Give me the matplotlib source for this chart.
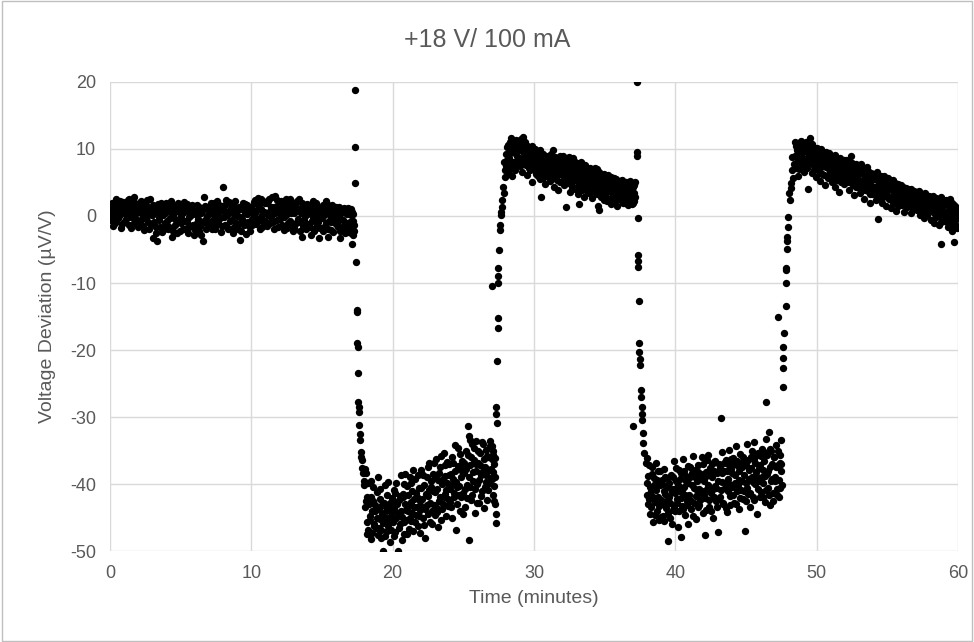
import numpy as np
import matplotlib
matplotlib.use('Agg')
from matplotlib import pyplot as plt
from matplotlib.patches import Rectangle

# %% Data (time in minutes, deviation in uV/V).
# Each plateau is stored as two interleaved read-outs (a, b).
baseline_a = [
    (0.00, 0.8), (0.08, -0.6), (0.17, 1.9), (0.25, 0.2), (0.33, -1.1), (0.42, 2.6), (0.50, 0.9), (0.58, -0.3), (0.67, 1.5), (0.75, -1.8), (0.83, 0.4), (0.92, 2.1),
    (1.00, -0.9), (1.08, 1.2), (1.17, 0.1), (1.25, 2.4), (1.33, -1.4), (1.42, 0.7), (1.50, -0.2), (1.58, 1.8), (1.67, 2.9), (1.75, -0.7), (1.83, 0.5), (1.92, 1.4),
    (2.00, -1.6), (2.08, 0.9), (2.17, 2.2), (2.25, -0.4), (2.33, 1.1), (2.42, -2.1), (2.50, 0.3), (2.58, 1.7), (2.67, -0.9), (2.75, 0.6), (2.83, 2.5), (2.92, -1.2),
    (3.00, 0.2), (3.07, -3.3), (3.17, 1.3), (3.25, -1.7), (3.30, -3.8), (3.42, 0.8), (3.50, -0.6), (3.58, 1.9), (3.67, -2.4), (3.75, 0.1), (3.83, 1.5), (3.92, -1.0),
    (4.00, 0.7), (4.08, -2.0), (4.17, 1.6), (4.25, -0.3), (4.33, 2.2), (4.40, -3.1), (4.50, 0.4), (4.58, -1.4), (4.67, 1.0), (4.75, -0.8), (4.83, 2.0), (4.92, -2.2),
    (5.00, 0.0), (5.08, 1.3), (5.17, -1.9), (5.25, 0.6), (5.33, -0.7), (5.42, 1.8), (5.50, -2.6), (5.58, -0.1), (5.67, 1.1), (5.75, -1.5), (5.83, 0.3), (5.92, -2.8),
    (6.00, 0.9), (6.08, -1.2), (6.17, 1.6), (6.25, -0.4), (6.33, -2.3), (6.42, 0.5), (6.50, -1.0), (6.60, -3.8), (6.67, 2.8), (6.75, -0.6), (6.83, 1.2), (6.92, -1.7),
    (7.00, 0.4), (7.08, -0.9), (7.17, 1.9), (7.25, -2.0), (7.33, 0.2), (7.42, 1.0), (7.50, -1.3), (7.58, 2.3), (7.67, -0.5), (7.75, 0.8), (7.83, -2.4), (7.92, 1.5),
    (8.00, 4.4), (8.08, -0.2), (8.17, 1.7), (8.25, -1.6), (8.33, 0.6), (8.42, 2.1), (8.50, -0.8), (8.58, 1.1), (8.67, -2.5), (8.75, 0.3), (8.83, 1.4), (8.92, -1.1),
    (9.00, 0.7), (9.08, -1.9), (9.17, -3.6), (9.25, 1.2), (9.33, -0.4), (9.42, 2.0), (9.50, -1.4), (9.58, 0.5), (9.67, 1.6), (9.75, -0.9), (9.83, 0.9), (9.92, -2.2),
    (10.00, 1.3), (10.08, -0.5), (10.17, 2.1), (10.25, 0.4), (10.33, -1.2), (10.42, 1.8), (10.50, 2.7), (10.58, -0.3), (10.67, 1.0), (10.75, -1.6), (10.83, 2.3), (10.92, 0.6),
    (11.00, -0.8), (11.08, 1.9), (11.17, 0.2), (11.25, 2.6), (11.33, -1.1), (11.42, 1.4), (11.50, 0.7), (11.58, -2.0), (11.67, 3.0), (11.75, 0.9), (11.83, -0.6), (11.92, 1.7),
    (12.00, 0.3), (12.08, 2.2), (12.17, -1.3), (12.25, 1.1), (12.33, -0.2), (12.42, 2.5), (12.50, -1.8), (12.58, 0.8), (12.67, 1.6), (12.75, -0.7), (12.83, 2.0), (12.92, -2.3),
    (13.00, 0.5), (13.08, 1.4), (13.17, -1.0), (13.25, 2.1), (13.33, -0.4), (13.40, 2.6), (13.50, 0.9), (13.60, -3.1), (13.67, -1.5), (13.75, 1.2), (13.83, 0.0), (13.92, 1.8),
    (14.00, -1.2), (14.08, 0.6), (14.20, -2.9), (14.25, 1.5), (14.33, -0.5), (14.42, 0.8), (14.50, -1.9), (14.58, 1.9), (14.67, 0.1), (14.75, -0.9), (14.80, -3.3), (14.92, 1.1),
    (15.00, -0.3), (15.08, 1.6), (15.17, -1.7), (15.30, 2.3), (15.33, 0.4), (15.40, -3.1), (15.50, -0.8), (15.58, 1.3), (15.67, -2.1), (15.75, 0.7), (15.83, -0.4), (15.92, 1.0),
    (16.00, 1.4), (16.08, -1.1), (16.17, 0.5), (16.25, -2.2), (16.30, -3.3), (16.42, 0.9), (16.50, -0.6), (16.58, 1.2), (16.67, -1.6), (16.75, 0.3), (16.83, -2.4), (16.92, 0.8),
    (17.00, -0.9), (17.05, 1.1), (17.10, -1.8), (17.15, -4.2), (17.20, 0.3), (17.25, -1.4), (17.30, -2.2),
]
baseline_b = [
    (0.04, -0.2), (0.12, 1.4), (0.21, -1.5), (0.29, 2.0), (0.37, 0.5), (0.46, -0.8), (0.54, 1.7), (0.62, 0.0), (0.71, 2.3), (0.79, 0.9), (0.87, -1.2), (0.96, 1.1),
    (1.04, 2.0), (1.12, -0.5), (1.21, 1.6), (1.29, 0.3), (1.37, 2.6), (1.46, -1.8), (1.54, 1.0), (1.62, 0.2), (1.71, -1.0), (1.79, 1.9), (1.87, -0.4), (1.96, 0.8),
    (2.04, 1.7), (2.12, -0.8), (2.21, 0.4), (2.29, 1.9), (2.37, -1.5), (2.46, 0.9), (2.54, -0.3), (2.62, 2.4), (2.71, 0.5), (2.79, -1.9), (2.87, 1.0), (2.96, 0.1),
    (3.04, 1.6), (3.12, -0.9), (3.21, 0.6), (3.29, -2.6), (3.37, 1.8), (3.46, -0.2), (3.54, -1.6), (3.62, 0.7), (3.71, 1.3), (3.79, -2.0), (3.87, 0.4), (3.96, 1.9),
    (4.04, -0.7), (4.12, 0.9), (4.21, -1.6), (4.29, 1.2), (4.37, 0.1), (4.46, -2.3), (4.54, 1.5), (4.62, -0.4), (4.71, -2.6), (4.79, 0.8), (4.87, -0.9), (4.96, 1.4),
    (5.04, -1.1), (5.12, 0.4), (5.21, 2.1), (5.29, -2.0), (5.37, 0.8), (5.46, -0.9), (5.54, 1.2), (5.62, -1.7), (5.71, 0.2), (5.79, 1.7), (5.87, -1.3), (5.96, 0.5),
    (6.04, -2.1), (6.12, 0.3), (6.21, -0.8), (6.29, 1.3), (6.37, -1.5), (6.46, -2.9), (6.54, 0.7), (6.62, -0.9), (6.71, 1.5), (6.79, -2.0), (6.87, 0.0), (6.96, -1.1),
    (7.04, 1.3), (7.12, -1.6), (7.21, 0.6), (7.29, -0.6), (7.37, 2.0), (7.46, -1.9), (7.54, 0.4), (7.62, -1.1), (7.71, 1.6), (7.79, -0.3), (7.87, 0.9), (7.96, -1.5),
    (8.04, 0.8), (8.12, -1.3), (8.21, 2.4), (8.29, 0.2), (8.37, -1.9), (8.46, 0.9), (8.54, 1.8), (8.62, -0.6), (8.71, 0.5), (8.79, -1.7), (8.87, 2.2), (8.96, 0.0),
    (9.04, -1.2), (9.12, 1.3), (9.21, -0.2), (9.29, -2.2), (9.37, 1.0), (9.46, -0.9), (9.54, 1.8), (9.62, -2.7), (9.71, 0.3), (9.79, 1.4), (9.87, -1.5), (9.96, 0.6),
    (10.04, -1.3), (10.12, 0.8), (10.21, -0.1), (10.29, 2.4), (10.37, 0.9), (10.46, -0.8), (10.54, 1.5), (10.62, -1.9), (10.71, 2.5), (10.79, 0.2), (10.87, -0.9), (10.96, 1.9),
    (11.04, 0.5), (11.12, -1.5), (11.21, 2.2), (11.29, 0.8), (11.37, -0.2), (11.46, 2.8), (11.54, -0.9), (11.62, 1.3), (11.71, 0.4), (11.79, 2.4), (11.87, -1.6), (11.96, 1.0),
    (12.04, -0.4), (12.12, 1.5), (12.21, 0.6), (12.29, -2.1), (12.37, 1.9), (12.46, 0.2), (12.54, 1.2), (12.62, -1.0), (12.71, 2.6), (12.79, 0.5), (12.87, -1.4), (12.96, 1.3),
    (13.04, -1.8), (13.12, 0.7), (13.21, 2.3), (13.29, -0.9), (13.37, 1.1), (13.46, -2.2), (13.54, 0.4), (13.62, 1.9), (13.71, -0.6), (13.79, 0.9), (13.87, -2.0), (13.96, 0.3),
    (14.04, 1.6), (14.12, -1.6), (14.21, 0.3), (14.29, -0.8), (14.37, 2.2), (14.46, -2.3), (14.54, 0.5), (14.62, -1.3), (14.71, 1.3), (14.79, 0.0), (14.87, -1.8), (14.96, 0.8),
    (15.04, -2.3), (15.12, 0.2), (15.21, 1.1), (15.29, -1.0), (15.37, 1.8), (15.46, -1.9), (15.54, 0.1), (15.62, -0.9), (15.71, 1.6), (15.79, -2.4), (15.87, 0.6), (15.96, -1.2),
    (16.04, 0.3), (16.12, -1.7), (16.21, 1.4), (16.29, -0.3), (16.37, -1.9), (16.46, 0.6), (16.54, -1.3), (16.62, -2.6), (16.71, 0.4), (16.79, -1.0), (16.87, 1.2), (16.96, -2.0),
    (17.02, 0.2), (17.08, -2.6), (17.12, 0.6), (17.18, -0.8), (17.22, -2.8),
]

drop_1 = [
    (17.32, 18.8), (17.33, 10.3), (17.35, 4.9), (17.40, -6.9), (17.45, -14.0), (17.47, -14.3), (17.50, -19.0), (17.52, -19.6),
    (17.55, -23.4), (17.58, -27.8), (17.60, -28.5), (17.62, -29.3), (17.65, -31.2), (17.68, -32.5), (17.70, -33.5), (17.75, -35.2),
    (17.78, -36.0), (17.82, -36.4), (17.86, -37.6), (17.90, -38.3), (17.95, -39.5),
]

low_1a = [
    (18.00, -40.2), (18.05, -43.5), (18.10, -38.4), (18.15, -45.6), (18.22, -41.9), (18.28, -46.8), (18.33, -43.0), (18.40, -44.7), (18.47, -39.6), (18.53, -47.3), (18.60, -42.5), (18.67, -45.9), (18.73, -44.1), (18.80, -46.5), (18.87, -41.2), (18.93, -47.6),
    (19.00, -43.8), (19.07, -45.2), (19.13, -40.7), (19.20, -46.9), (19.27, -44.4), (19.30, -50.0), (19.40, -42.8), (19.47, -47.8), (19.53, -45.0), (19.60, -41.6), (19.67, -46.2), (19.73, -43.3), (19.80, -48.6), (19.87, -44.8), (19.93, -42.1),
    (20.00, -45.7), (20.07, -40.9), (20.13, -43.6), (20.20, -47.1), (20.27, -39.8), (20.35, -44.3), (20.40, -50.0), (20.47, -42.4), (20.53, -46.0), (20.60, -38.7), (20.67, -44.9), (20.73, -41.5), (20.80, -47.4), (20.87, -43.0), (20.93, -45.3),
    (21.00, -40.3), (21.07, -44.0), (21.13, -46.7), (21.20, -38.9), (21.27, -42.7), (21.33, -45.5), (21.40, -41.0), (21.47, -47.0), (21.53, -43.4), (21.60, -39.2), (21.67, -44.6), (21.73, -42.0), (21.80, -46.3), (21.87, -40.6), (21.93, -43.9),
    (22.00, -37.9), (22.07, -42.3), (22.13, -45.0), (22.20, -40.1), (22.27, -43.7), (22.30, -48.1), (22.40, -39.0), (22.47, -41.8), (22.53, -44.5), (22.60, -36.8), (22.67, -42.9), (22.73, -40.4), (22.80, -46.0), (22.87, -38.5), (22.93, -43.1),
    (23.00, -41.2), (23.07, -36.2), (23.13, -44.2), (23.20, -39.4), (23.27, -42.6), (23.33, -37.5), (23.40, -45.4), (23.47, -40.0), (23.53, -43.0), (23.60, -35.4), (23.67, -41.5), (23.73, -38.8), (23.80, -44.7), (23.87, -39.9), (23.93, -42.2),
    (24.00, -37.0), (24.07, -40.8), (24.13, -43.5), (24.20, -35.9), (24.27, -39.3), (24.33, -42.0), (24.40, -38.1), (24.47, -46.8), (24.53, -40.5), (24.60, -34.6), (24.67, -41.7), (24.73, -37.6), (24.80, -44.0), (24.87, -39.0), (24.93, -36.5),
    (25.00, -41.3), (25.07, -38.3), (25.13, -43.4), (25.20, -35.0), (25.27, -40.2), (25.33, -31.4), (25.40, -32.8), (25.40, -48.4), (25.47, -37.2), (25.53, -42.4), (25.60, -34.1), (25.67, -39.6), (25.73, -36.4), (25.80, -44.3), (25.87, -38.0), (25.93, -33.6),
    (26.00, -40.0), (26.07, -36.9), (26.13, -42.8), (26.20, -35.3), (26.27, -38.6), (26.33, -41.1), (26.40, -34.0), (26.47, -43.6), (26.53, -37.4), (26.60, -39.7), (26.67, -35.8), (26.73, -40.9), (26.80, -37.9), (26.87, -34.4), (26.93, -39.1),
    (27.00, -36.3), (27.03, -34.4), (27.07, -41.6), (27.10, -38.2), (27.13, -35.6), (27.17, -40.3), (27.20, -37.0), (27.25, -43.0), (27.30, -44.4), (27.32, -45.8),
]
low_1b = [
    (18.03, -37.8), (18.12, -42.6), (18.19, -47.4), (18.25, -39.9), (18.37, -45.3), (18.44, -42.0), (18.50, -48.2), (18.57, -44.0), (18.63, -40.5), (18.70, -46.3), (18.77, -43.2), (18.90, -45.0), (18.97, -39.0),
    (19.03, -46.5), (19.10, -42.3), (19.17, -48.0), (19.23, -43.1), (19.35, -45.8), (19.43, -40.2), (19.50, -44.1), (19.57, -47.0), (19.63, -43.6), (19.70, -39.7), (19.77, -45.5), (19.83, -42.9), (19.90, -46.8), (19.97, -44.2),
    (20.03, -42.5), (20.10, -47.7), (20.17, -41.4), (20.23, -45.0), (20.30, -43.0), (20.43, -46.6), (20.50, -41.8), (20.57, -44.0), (20.63, -48.4), (20.70, -42.0), (20.77, -40.0), (20.83, -45.6), (20.90, -38.5), (20.97, -43.9),
    (21.03, -47.5), (21.10, -41.6), (21.17, -43.2), (21.23, -45.0), (21.30, -39.8), (21.37, -44.3), (21.43, -37.9), (21.50, -42.2), (21.57, -45.7), (21.63, -41.3), (21.70, -43.5), (21.77, -38.6), (21.83, -44.8), (21.90, -42.5), (21.97, -47.3),
    (22.03, -40.6), (22.10, -43.4), (22.17, -38.6), (22.23, -46.1), (22.35, -41.5), (22.43, -43.2), (22.50, -37.5), (22.57, -40.9), (22.63, -45.6), (22.70, -39.6), (22.77, -44.0), (22.83, -41.0), (22.90, -36.9), (22.97, -44.6),
    (23.03, -39.0), (23.10, -43.5), (23.17, -40.7), (23.23, -46.4), (23.30, -38.3), (23.37, -41.9), (23.43, -35.8), (23.50, -43.8), (23.57, -39.2), (23.63, -42.0), (23.70, -37.2), (23.77, -40.9), (23.83, -36.7), (23.90, -43.3), (23.97, -38.6),
    (24.03, -42.7), (24.10, -38.5), (24.17, -40.0), (24.23, -45.1), (24.30, -36.8), (24.37, -41.4), (24.43, -34.2), (24.50, -39.7), (24.57, -43.0), (24.63, -37.3), (24.70, -40.3), (24.77, -35.5), (24.83, -42.0), (24.90, -38.0), (24.97, -44.5),
    (25.03, -36.8), (25.10, -40.7), (25.17, -37.7), (25.23, -42.1), (25.30, -35.7), (25.37, -39.0), (25.45, -33.5), (25.50, -40.4), (25.57, -36.0), (25.63, -41.6), (25.70, -38.2), (25.77, -34.6), (25.83, -40.8), (25.90, -37.0), (25.97, -42.9),
    (26.03, -35.1), (26.10, -39.4), (26.17, -37.2), (26.23, -41.8), (26.30, -33.8), (26.37, -38.0), (26.43, -36.2), (26.50, -40.5), (26.57, -34.9), (26.63, -38.7), (26.70, -42.4), (26.77, -36.0), (26.83, -39.9), (26.90, -33.6), (26.97, -37.8),
    (27.05, -39.3), (27.12, -35.0), (27.18, -42.5), (27.22, -36.1), (27.27, -38.9),
]

rise_1 = [
    (27.06, -10.4), (27.33, -28.5), (27.34, -29.6), (27.35, -30.9), (27.38, -21.6), (27.42, -15.2), (27.43, -16.7), (27.45, -7.8),
    (27.46, -9.0), (27.47, -10.0), (27.52, -5.1), (27.56, -1.3), (27.58, -2.1), (27.65, 0.6), (27.68, 0.1), (27.72, 2.4),
    (27.75, 1.4), (27.82, 4.3), (27.85, 3.4), (27.90, 8.0), (27.93, 5.8), (27.96, 6.9), (28.00, 9.2), (28.04, 7.4),
]

high_1a = [
    (28.08, 10.3), (28.13, 6.2), (28.20, 8.7), (28.27, 11.0), (28.33, 7.3), (28.40, 9.6), (28.47, 5.9), (28.53, 10.8), (28.60, 8.1), (28.67, 6.8), (28.73, 11.3), (28.80, 9.0), (28.87, 7.6), (28.93, 10.1),
    (29.00, 8.4), (29.07, 11.5), (29.13, 6.5), (29.20, 9.8), (29.25, 11.8), (29.33, 7.9), (29.40, 10.6), (29.47, 8.8), (29.53, 6.1), (29.60, 9.3), (29.67, 7.2), (29.73, 10.2), (29.80, 8.0), (29.87, 5.0), (29.93, 9.1),
    (30.00, 7.6), (30.07, 10.0), (30.13, 6.3), (30.20, 8.9), (30.27, 7.0), (30.33, 9.5), (30.40, 5.5), (30.47, 2.9), (30.53, 8.2), (30.60, 6.6), (30.67, 9.3), (30.73, 7.4), (30.80, 4.8), (30.87, 8.6), (30.93, 6.0),
    (31.00, 9.0), (31.07, 7.1), (31.13, 5.2), (31.20, 8.3), (31.27, 6.4), (31.33, 9.8), (31.40, 4.3), (31.47, 7.7), (31.53, 5.8), (31.60, 8.5), (31.67, 3.9), (31.73, 6.9), (31.80, 8.0), (31.87, 5.1), (31.93, 7.3),
    (32.00, 6.2), (32.07, 8.9), (32.13, 4.6), (32.20, 7.5), (32.27, 1.4), (32.33, 5.7), (32.40, 8.2), (32.47, 6.5), (32.53, 3.6), (32.60, 7.1), (32.67, 5.0), (32.73, 8.6), (32.80, 6.0), (32.87, 4.1), (32.93, 7.0),
    (33.00, 5.4), (33.07, 7.9), (33.13, 3.3), (33.20, 1.8), (33.27, 6.3), (33.33, 4.7), (33.40, 7.4), (33.47, 5.6), (33.53, 2.9), (33.60, 6.7), (33.67, 4.4), (33.73, 7.1), (33.80, 5.1), (33.87, 3.5), (33.93, 6.0),
    (34.00, 4.9), (34.07, 6.8), (34.13, 2.7), (34.20, 5.5), (34.27, 3.8), (34.33, 6.4), (34.40, 4.2), (34.47, 7.0), (34.53, 1.5), (34.60, 0.9), (34.67, 5.3), (34.73, 3.2), (34.80, 6.0), (34.87, 4.5), (34.93, 2.4),
    (35.00, 5.7), (35.07, 3.6), (35.13, 4.9), (35.20, 2.2), (35.27, 6.1), (35.33, 3.9), (35.40, 5.0), (35.47, 1.8), (35.53, 4.4), (35.60, 2.9), (35.67, 5.6), (35.73, 3.3), (35.80, 4.7), (35.87, 1.5), (35.93, 3.0),
    (36.00, 4.8), (36.07, 2.5), (36.13, 3.8), (36.20, 5.3), (36.27, 1.9), (36.33, 3.4), (36.40, 4.6), (36.47, 2.2), (36.53, 5.0), (36.60, 3.1), (36.67, 1.6), (36.73, 4.1), (36.80, 2.6), (36.87, 3.7), (36.93, 1.8),
    (37.00, 4.4), (37.05, 2.3), (37.10, 3.5), (37.15, 5.1),
]
high_1b = [
    (28.10, 8.3), (28.17, 10.6), (28.23, 6.9), (28.30, 9.4), (28.37, 11.6), (28.43, 8.0), (28.50, 10.0), (28.57, 7.0), (28.63, 11.0), (28.70, 9.3), (28.77, 7.9), (28.83, 10.7), (28.90, 8.6), (28.97, 11.2),
    (29.03, 7.4), (29.10, 9.9), (29.17, 8.5), (29.23, 10.9), (29.30, 9.2), (29.37, 11.1), (29.43, 7.6), (29.50, 10.4), (29.57, 8.4), (29.63, 9.8), (29.70, 6.9), (29.77, 8.9), (29.83, 10.5), (29.90, 7.3), (29.97, 9.4),
    (30.03, 8.4), (30.10, 6.8), (30.17, 9.6), (30.23, 7.7), (30.30, 5.9), (30.37, 8.5), (30.43, 9.9), (30.50, 7.1), (30.57, 8.8), (30.63, 5.6), (30.70, 7.9), (30.77, 9.0), (30.83, 6.5), (30.90, 8.1), (30.97, 7.0),
    (31.03, 6.0), (31.10, 8.7), (31.17, 7.2), (31.23, 9.3), (31.30, 5.6), (31.37, 7.9), (31.43, 6.6), (31.50, 8.8), (31.57, 7.0), (31.63, 5.3), (31.70, 8.2), (31.77, 6.2), (31.83, 9.0), (31.90, 6.7), (31.97, 8.0),
    (32.03, 7.4), (32.10, 5.5), (32.17, 8.0), (32.23, 6.4), (32.30, 7.8), (32.37, 4.9), (32.43, 7.0), (32.50, 8.8), (32.57, 5.9), (32.63, 6.9), (32.70, 4.4), (32.77, 7.6), (32.83, 5.3), (32.90, 8.1), (32.97, 6.1),
    (33.03, 6.6), (33.10, 4.5), (33.17, 7.0), (33.23, 5.2), (33.30, 8.1), (33.37, 6.0), (33.43, 3.9), (33.50, 6.8), (33.57, 5.0), (33.63, 7.6), (33.70, 5.7), (33.77, 3.8), (33.83, 6.4), (33.90, 4.8), (33.97, 7.2),
    (34.03, 5.8), (34.10, 3.9), (34.17, 6.1), (34.23, 4.6), (34.30, 7.2), (34.37, 5.1), (34.43, 3.3), (34.50, 5.9), (34.57, 4.0), (34.63, 6.5), (34.70, 4.8), (34.77, 2.9), (34.83, 5.4), (34.90, 3.7), (34.97, 6.2),
    (35.03, 4.5), (35.10, 2.8), (35.17, 5.3), (35.23, 3.9), (35.30, 4.7), (35.37, 2.5), (35.43, 5.8), (35.50, 3.4), (35.57, 4.9), (35.63, 2.3), (35.70, 4.3), (35.77, 5.5), (35.83, 3.0), (35.90, 4.4), (35.97, 2.6),
    (36.03, 3.6), (36.10, 5.2), (36.17, 2.4), (36.23, 4.3), (36.30, 3.0), (36.37, 5.0), (36.43, 2.0), (36.50, 3.9), (36.57, 4.5), (36.63, 2.7), (36.70, 3.5), (36.77, 5.2), (36.83, 2.0), (36.90, 4.2), (36.97, 3.1),
    (37.03, 1.9), (37.08, 4.6), (37.12, 2.8),
]

drop_2 = [
    (37.03, -31.3), (37.27, 20.0), (37.28, 9.6), (37.29, 8.9), (37.33, -0.3), (37.34, -5.8), (37.35, -6.7), (37.36, -7.6),
    (37.40, -12.7), (37.45, -18.9), (37.46, -20.3), (37.47, -21.4), (37.48, -22.2), (37.56, -26.0), (37.57, -27.0), (37.62, -28.5),
    (37.63, -29.6), (37.65, -30.4), (37.68, -32.4), (37.70, -33.9), (37.80, -35.4), (37.90, -36.8), (37.98, -36.1),
]

low_2a = [
    (38.00, -39.8), (38.07, -43.0), (38.13, -37.2), (38.20, -44.4), (38.27, -41.1), (38.33, -38.5), (38.40, -45.6), (38.47, -40.2), (38.53, -42.7), (38.60, -36.9), (38.67, -44.0), (38.73, -39.4), (38.80, -41.9), (38.87, -45.3), (38.93, -38.1),
    (39.00, -42.4), (39.07, -40.0), (39.13, -44.8), (39.20, -37.7), (39.27, -41.5), (39.33, -43.6), (39.40, -39.1), (39.50, -48.5), (39.53, -42.0), (39.60, -45.0), (39.67, -38.6), (39.73, -41.2), (39.80, -43.9), (39.87, -36.6), (39.93, -40.7),
    (40.00, -44.1), (40.07, -39.5), (40.13, -42.2), (40.20, -46.4), (40.27, -37.9), (40.33, -41.0), (40.40, -47.9), (40.47, -43.3), (40.53, -36.3), (40.60, -40.4), (40.67, -44.6), (40.73, -38.8), (40.80, -42.5), (40.87, -45.9), (40.93, -39.9),
    (41.00, -41.7), (41.07, -37.4), (41.13, -43.8), (41.20, -40.1), (41.27, -35.8), (41.33, -42.9), (41.40, -38.9), (41.47, -45.2), (41.53, -40.9), (41.60, -37.1), (41.67, -43.1), (41.73, -39.3), (41.80, -41.4), (41.87, -36.0), (41.93, -44.3),
    (42.00, -39.6), (42.07, -42.1), (42.10, -47.6), (42.20, -38.2), (42.27, -40.8), (42.33, -35.6), (42.40, -43.5), (42.47, -37.6), (42.53, -41.3), (42.60, -39.0), (42.67, -45.1), (42.73, -36.7), (42.80, -40.3), (42.87, -42.6), (42.93, -38.4),
    (43.00, -47.2), (43.07, -37.0), (43.13, -41.9), (43.20, -30.2), (43.27, -39.7), (43.33, -35.2), (43.40, -43.0), (43.47, -38.0), (43.53, -40.6), (43.60, -36.4), (43.67, -44.2), (43.73, -39.2), (43.80, -34.9), (43.87, -41.8), (43.93, -37.8),
    (44.00, -40.4), (44.07, -36.1), (44.13, -42.8), (44.20, -38.6), (44.27, -34.4), (44.33, -41.0), (44.40, -37.3), (44.47, -43.7), (44.53, -39.4), (44.60, -35.5), (44.67, -40.9), (44.73, -37.5), (44.80, -42.3), (44.90, -47.0), (44.93, -36.8),
    (45.00, -39.8), (45.07, -34.0), (45.13, -41.5), (45.20, -37.9), (45.27, -43.4), (45.33, -35.9), (45.40, -39.0), (45.47, -41.9), (45.53, -36.2), (45.60, -33.8), (45.67, -40.0), (45.73, -38.2), (45.80, -44.5), (45.87, -35.4), (45.93, -39.6),
    (46.00, -37.1), (46.07, -41.2), (46.13, -34.7), (46.20, -39.9), (46.27, -36.6), (46.33, -42.7), (46.40, -33.3), (46.47, -38.5), (46.53, -40.6), (46.60, -32.3), (46.67, -37.4), (46.73, -43.2), (46.80, -35.1), (46.87, -39.3), (46.93, -41.4),
    (47.00, -36.0), (47.07, -38.9), (47.13, -34.2), (47.20, -40.8), (47.27, -37.2), (47.33, -42.0), (47.40, -35.6), (47.45, -38.0), (47.50, -33.4), (47.53, -40.2),
]
low_2b = [
    (38.03, -41.6), (38.10, -38.8), (38.17, -42.3), (38.23, -40.4), (38.30, -43.5), (38.37, -37.5), (38.43, -41.9), (38.50, -39.1), (38.57, -44.6), (38.63, -40.9), (38.70, -42.7), (38.77, -38.0), (38.83, -43.3), (38.90, -40.1), (38.97, -44.9),
    (39.03, -39.4), (39.10, -43.0), (39.17, -41.0), (39.23, -45.5), (39.30, -38.9), (39.37, -42.6), (39.43, -40.3), (39.47, -44.3), (39.57, -39.8), (39.63, -42.9), (39.70, -40.8), (39.77, -46.0), (39.83, -39.0), (39.90, -43.4), (39.97, -41.4),
    (40.03, -37.6), (40.10, -42.9), (40.17, -40.2), (40.23, -44.0), (40.30, -39.2), (40.37, -42.1), (40.43, -38.4), (40.50, -40.9), (40.57, -43.8), (40.63, -38.0), (40.70, -41.7), (40.77, -39.6), (40.83, -43.2), (40.90, -37.3), (40.97, -42.2),
    (41.03, -39.0), (41.10, -42.5), (41.17, -38.3), (41.23, -44.7), (41.30, -40.6), (41.37, -37.9), (41.43, -41.8), (41.50, -39.6), (41.57, -43.5), (41.63, -38.2), (41.70, -40.7), (41.77, -42.4), (41.83, -38.5), (41.90, -41.0), (41.97, -37.0),
    (42.03, -41.5), (42.13, -38.9), (42.17, -43.9), (42.23, -36.4), (42.30, -40.1), (42.37, -42.4), (42.43, -38.7), (42.50, -44.1), (42.57, -37.0), (42.63, -40.8), (42.70, -38.1), (42.77, -42.0), (42.83, -36.5), (42.90, -40.6), (42.97, -43.4),
    (43.03, -39.5), (43.10, -42.3), (43.17, -37.6), (43.23, -40.9), (43.30, -38.4), (43.37, -42.8), (43.43, -36.9), (43.50, -39.9), (43.57, -43.6), (43.63, -38.0), (43.70, -41.1), (43.77, -37.1), (43.83, -40.0), (43.90, -43.1), (43.97, -36.3),
    (44.03, -38.3), (44.10, -41.6), (44.17, -37.0), (44.23, -39.8), (44.30, -43.0), (44.37, -36.6), (44.43, -40.2), (44.50, -38.0), (44.57, -42.1), (44.63, -36.9), (44.70, -39.6), (44.77, -35.9), (44.83, -41.0), (44.87, -38.6), (44.97, -42.6),
    (45.03, -37.2), (45.10, -40.6), (45.17, -36.4), (45.23, -39.3), (45.30, -41.4), (45.37, -37.6), (45.43, -35.1), (45.50, -39.7), (45.57, -42.4), (45.63, -36.9), (45.70, -38.8), (45.77, -35.7), (45.83, -40.7), (45.90, -37.6), (45.97, -42.0),
    (46.03, -35.8), (46.10, -39.0), (46.17, -37.9), (46.23, -41.9), (46.30, -35.2), (46.37, -38.8), (46.43, -40.9), (46.50, -35.6), (46.57, -38.1), (46.63, -41.6), (46.70, -34.8), (46.77, -39.6), (46.83, -37.0), (46.90, -42.5), (46.97, -35.9),
    (47.03, -39.6), (47.10, -37.5), (47.17, -41.7), (47.23, -35.0), (47.30, -39.4), (47.37, -36.8), (47.43, -40.6), (47.48, -37.0),
]

rise_2 = [
    (46.40, -27.8), (47.25, -15.0), (47.60, -25.5), (47.62, -22.7), (47.63, -21.2), (47.64, -19.5), (47.66, -17.4), (47.80, -13.5),
    (47.82, -10.0), (47.84, -8.0), (47.80, -7.8), (47.90, -5.0), (47.92, -3.1), (47.93, -3.8), (47.95, -0.1), (47.96, -1.6),
    (48.05, 3.4), (48.08, 2.4), (48.15, 4.9), (48.18, 4.2), (48.25, 8.8), (48.28, 6.9), (48.33, 5.7), (48.36, 7.8),
]

high_2a = [
    (48.45, 11.0), (48.52, 7.2), (48.60, 9.8), (48.67, 6.0), (48.73, 10.9), (48.80, 8.4), (48.87, 11.2), (48.93, 7.7),
    (49.00, 9.6), (49.07, 6.6), (49.13, 10.5), (49.20, 8.2), (49.27, 11.0), (49.33, 7.1), (49.40, 4.1), (49.47, 9.3), (49.50, 11.7), (49.53, 8.0), (49.60, 10.3), (49.67, 6.4), (49.73, 9.0), (49.80, 7.5), (49.87, 10.1), (49.93, 5.8),
    (50.00, 8.7), (50.07, 6.9), (50.13, 9.6), (50.20, 5.2), (50.27, 8.1), (50.33, 10.0), (50.40, 6.2), (50.47, 7.8), (50.53, 9.2), (50.60, 4.6), (50.67, 7.3), (50.73, 8.8), (50.80, 5.7), (50.87, 9.4), (50.93, 6.6),
    (51.00, 7.9), (51.07, 5.0), (51.13, 8.6), (51.20, 6.3), (51.27, 9.1), (51.33, 4.4), (51.40, 7.4), (51.47, 5.9), (51.53, 8.3), (51.60, 3.6), (51.67, 6.8), (51.73, 8.0), (51.80, 5.4), (51.87, 7.1), (51.93, 4.8),
    (52.00, 6.5), (52.07, 8.4), (52.13, 5.3), (52.20, 7.6), (52.27, 3.9), (52.33, 6.1), (52.40, 8.9), (52.47, 4.9), (52.53, 7.0), (52.60, 5.6), (52.67, 3.2), (52.73, 6.7), (52.80, 4.3), (52.87, 7.4), (52.93, 5.1),
    (53.00, 6.3), (53.07, 3.5), (53.13, 7.8), (53.20, 5.0), (53.27, 6.9), (53.33, 2.6), (53.40, 5.8), (53.47, 4.1), (53.53, 7.3), (53.60, 3.8), (53.67, 6.0), (53.73, 4.6), (53.80, 1.9), (53.87, 5.4), (53.93, 3.3),
    (54.00, 6.2), (54.07, 4.0), (54.13, 5.5), (54.20, 2.4), (54.27, 6.6), (54.33, -0.4), (54.40, 4.7), (54.47, 3.1), (54.53, 5.9), (54.60, 2.0), (54.67, 4.3), (54.73, 6.0), (54.80, 3.6), (54.87, 1.5), (54.93, 4.9),
    (55.00, 3.2), (55.07, 5.6), (55.13, 2.7), (55.20, 4.5), (55.27, 1.2), (55.33, 3.9), (55.40, 5.3), (55.47, 2.3), (55.53, 4.2), (55.60, 0.8), (55.67, 3.4), (55.73, 4.8), (55.80, 1.9), (55.87, 3.7), (55.93, 2.5),
    (56.00, 4.6), (56.07, 1.6), (56.13, 3.3), (56.20, 0.6), (56.27, 2.8), (56.33, 4.2), (56.40, 1.3), (56.47, 3.0), (56.53, 2.1), (56.60, 3.9), (56.67, 0.4), (56.73, 2.6), (56.80, 3.6), (56.87, 1.0), (56.93, 2.4),
    (57.00, 3.4), (57.07, 0.9), (57.13, 2.9), (57.20, 1.7), (57.27, 3.8), (57.33, 0.2), (57.40, 2.2), (57.47, 1.1), (57.53, 3.1), (57.60, -0.3), (57.67, 2.0), (57.73, 2.9), (57.80, 0.7), (57.87, 1.8), (57.93, 3.0),
    (58.00, 1.4), (58.07, -0.6), (58.13, 2.5), (58.20, 0.8), (58.27, 1.9), (58.33, -1.0), (58.40, 1.6), (58.47, 2.7), (58.53, 0.3), (58.60, 1.2), (58.67, -1.4), (58.73, 2.2), (58.80, -4.2), (58.87, 0.5), (58.93, 1.5),
    (59.00, -0.8), (59.07, 2.3), (59.13, 0.1), (59.20, 1.8), (59.27, -1.7), (59.33, 0.9), (59.40, 2.6), (59.47, -0.5), (59.53, 1.3), (59.60, -2.2), (59.67, 0.4), (59.70, -3.9), (59.73, 1.7), (59.80, -1.2), (59.87, 0.7), (59.93, -0.3), (60.00, 1.0),
]
high_2b = [
    (48.48, 9.0), (48.56, 10.4), (48.63, 8.1), (48.70, 9.5), (48.77, 7.0), (48.83, 10.1), (48.90, 8.9), (48.97, 10.6),
    (49.03, 8.0), (49.10, 10.8), (49.17, 7.4), (49.23, 9.7), (49.30, 8.6), (49.37, 10.2), (49.43, 7.9), (49.57, 9.6), (49.63, 8.5), (49.70, 10.7), (49.77, 8.3), (49.83, 6.9), (49.90, 9.2), (49.97, 7.8),
    (50.03, 10.2), (50.10, 7.9), (50.17, 8.9), (50.23, 6.5), (50.30, 9.0), (50.37, 7.4), (50.43, 8.7), (50.50, 6.1), (50.57, 8.3), (50.63, 9.6), (50.70, 6.0), (50.77, 7.7), (50.83, 8.6), (50.90, 7.0), (50.97, 9.1),
    (51.03, 6.8), (51.10, 8.8), (51.17, 5.7), (51.23, 7.7), (51.30, 6.9), (51.37, 8.6), (51.43, 5.3), (51.50, 7.2), (51.57, 6.4), (51.63, 8.7), (51.70, 5.0), (51.77, 7.0), (51.83, 6.2), (51.90, 8.3), (51.97, 5.9),
    (52.03, 7.4), (52.10, 5.7), (52.17, 6.9), (52.23, 8.1), (52.30, 5.0), (52.37, 7.2), (52.43, 6.0), (52.50, 7.9), (52.57, 4.6), (52.63, 6.8), (52.70, 5.5), (52.77, 7.7), (52.83, 6.1), (52.90, 4.4), (52.97, 6.9),
    (53.03, 5.2), (53.10, 7.0), (53.17, 4.3), (53.23, 6.5), (53.30, 5.4), (53.37, 7.2), (53.43, 3.9), (53.50, 6.1), (53.57, 4.8), (53.63, 6.7), (53.70, 5.3), (53.77, 3.3), (53.83, 6.4), (53.90, 4.5), (53.97, 5.9),
    (54.03, 3.3), (54.10, 5.8), (54.17, 4.4), (54.23, 6.1), (54.30, 3.6), (54.37, 5.2), (54.43, 2.9), (54.50, 5.0), (54.57, 3.9), (54.63, 5.6), (54.70, 2.8), (54.77, 4.5), (54.83, 5.4), (54.90, 3.0), (54.97, 4.0),
    (55.03, 4.6), (55.10, 2.6), (55.17, 4.0), (55.23, 5.0), (55.30, 2.9), (55.37, 4.4), (55.43, 1.9), (55.50, 3.6), (55.57, 4.9), (55.63, 2.5), (55.70, 3.9), (55.77, 1.5), (55.83, 4.3), (55.90, 3.1), (55.97, 1.8),
    (56.03, 3.1), (56.10, 4.4), (56.17, 2.0), (56.23, 3.5), (56.30, 1.7), (56.37, 3.3), (56.43, 4.1), (56.50, 1.5), (56.57, 3.2), (56.63, 2.3), (56.70, 4.0), (56.77, 1.4), (56.83, 2.9), (56.90, 3.8), (56.97, 1.9),
    (57.03, 2.4), (57.10, 3.6), (57.17, 1.1), (57.23, 2.6), (57.30, 3.4), (57.37, 1.5), (57.43, 3.0), (57.50, 0.6), (57.57, 2.3), (57.63, 3.5), (57.70, 1.2), (57.77, 2.6), (57.83, 0.1), (57.90, 2.4), (57.97, 1.3),
    (58.03, 2.8), (58.10, 0.9), (58.17, 1.7), (58.23, 3.0), (58.30, 0.4), (58.37, 2.1), (58.43, -0.2), (58.50, 1.8), (58.57, 2.5), (58.63, 0.0), (58.70, 1.4), (58.77, 2.9), (58.83, -0.9), (58.90, 2.2), (58.97, 0.6),
    (59.03, 1.6), (59.10, -0.4), (59.17, 2.4), (59.23, 0.6), (59.30, -1.0), (59.37, 1.9), (59.43, 0.3), (59.50, -1.5), (59.57, 2.0), (59.63, 0.9), (59.77, -0.6), (59.83, 1.4), (59.90, -1.8), (59.97, 0.2),
]

segments = [baseline_a, baseline_b, drop_1, low_1a, low_1b, rise_1, high_1a, high_1b,
            drop_2, low_2a, low_2b, rise_2, high_2a, high_2b]

x_ticks = [0, 10, 20, 30, 40, 50, 60]
y_ticks = [20, 10, 0, -10, -20, -30, -40, -50]

# %% Style.
plt.rcParams['font.family'] = ['Liberation Sans Narrow', 'Liberation Sans', 'DejaVu Sans']
plt.rcParams['axes.unicode_minus'] = False
text_col = '#595959'
grid_col = '#d9d9d9'

# %% Plot.
fig = plt.figure(figsize=(9.74, 6.42), dpi=100)
ax = fig.add_axes([0.1129, 0.1417, 0.8707, 0.7306])

pts = np.array([p for seg in segments for p in seg])
ax.scatter(pts[:, 0], pts[:, 1], s=28, color='black', linewidths=0, zorder=3)

ax.set_xlim(0, 60)
ax.set_ylim(-50, 20)
ax.set_xticks(x_ticks)
ax.set_yticks(y_ticks)
ax.grid(True, color=grid_col, linewidth=1.0)
ax.set_axisbelow(True)
for side in ['top', 'right', 'left', 'bottom']:
    ax.spines[side].set_visible(False)
ax.tick_params(length=0, labelsize=13, colors=text_col, pad=10)

ax.set_xlabel('Time (minutes)', fontsize=14, color=text_col, labelpad=6)
ax.set_ylabel('Voltage Deviation (µV/V)', fontsize=14, color=text_col, labelpad=10)
fig.text(0.5, 0.938, '+18 V/ 100 mA', ha='center', va='center', fontsize=18, color=text_col)

# Chart border:
fig.patches.append(Rectangle((0.002, 0.002), 0.996, 0.996, transform=fig.transFigure,
                             fill=False, edgecolor='#bfbfbf', linewidth=1.0))

fig.savefig('out.png', dpi=100)
